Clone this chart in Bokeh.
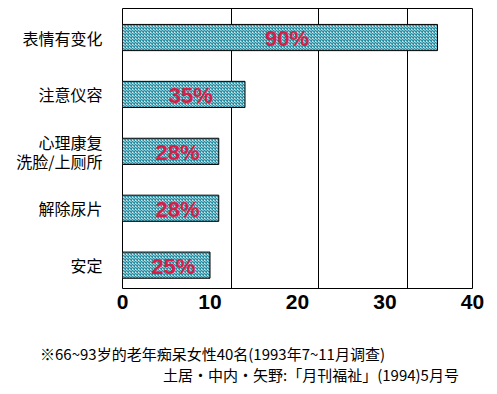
from bokeh.plotting import figure
from bokeh.models import FixedTicker, Range1d, ColumnDataSource, Div
from bokeh.layouts import column
from bokeh.core.properties import value
from bokeh.embed import file_html
from bokeh.resources import INLINE

categories = ["表情有变化", "注意仪容", "心理康复\n洗脸/上厕所", "解除尿片", "安定"]
counts = [36, 14, 11, 11, 10]
pct_labels = ["90%", "35%", "28%", "28%", "25%"]
x_ticks = [0, 10, 20, 30, 40]
grid_positions = [12.45, 22.4, 32.6]
note1 = "※66~93岁的老年痴呆女性40名(1993年7~11月调查)"
note2 = "土居・中内・矢野:「月刊福祉」(1994)5月号"

ypos = list(range(len(categories)))
src = ColumnDataSource(dict(y=ypos, right=counts, mid=[c / 2 for c in counts], lab=pct_labels))

p = figure(width=497, height=330, output_backend="svg", toolbar_location=None,
           x_range=Range1d(0, 40), y_range=Range1d(4.41, -0.51),
           min_border_left=122, min_border_right=25, min_border_top=8, min_border_bottom=42)
p.outline_line_color = "black"
p.outline_line_width = 1
p.background_fill_color = "white"
p.border_fill_color = "white"

p.hbar(y="y", left=0, right="right", height=0.46, source=src,
       fill_color="#cbe8ee", line_color="black", line_width=1,
       hatch_pattern="diagonal_cross", hatch_color="#2a8ea3", hatch_scale=3, hatch_weight=1.3)

p.text(x="mid", y="y", text="lab", source=src, x_offset=7, y_offset=1,
       text_align="center", text_baseline="middle", text_color="#d81e48",
       text_font=value("Liberation Sans"), text_font_style="bold", text_font_size="22px")

p.xgrid.ticker = FixedTicker(ticks=grid_positions)
p.xgrid.grid_line_color = "black"
p.xgrid.grid_line_width = 1
p.ygrid.grid_line_color = None

p.xaxis.ticker = FixedTicker(ticks=x_ticks)
p.xaxis.axis_line_color = None
p.xaxis.major_tick_line_color = None
p.xaxis.minor_tick_line_color = None
p.xaxis.major_tick_out = 0
p.xaxis.major_label_standoff = 6
p.xaxis.major_label_text_font = "Liberation Sans"
p.xaxis.major_label_text_font_style = "bold"
p.xaxis.major_label_text_font_size = "21px"
p.xaxis.major_label_text_color = "black"

p.yaxis.ticker = FixedTicker(ticks=ypos)
p.yaxis.major_label_overrides = {i: c for i, c in zip(ypos, categories)}
p.yaxis.axis_line_color = None
p.yaxis.major_tick_line_color = None
p.yaxis.minor_tick_line_color = None
p.yaxis.major_tick_out = 0
p.yaxis.major_label_standoff = 20
p.yaxis.major_label_text_font = "Noto Sans CJK SC"
p.yaxis.major_label_text_font_size = "16px"
p.yaxis.major_label_text_line_height = 0.8
p.yaxis.major_label_text_color = "black"

note_html = (
    '<div style="position:relative;width:497px;height:64px;'
    "font-family:'Noto Sans CJK SC';font-size:15px;line-height:18px;color:black;\">"
    f'<div style="position:absolute;left:40px;top:15px;white-space:nowrap;">{note1}</div>'
    f'<div style="position:absolute;left:163px;top:36px;white-space:nowrap;">{note2}</div>'
    '</div>'
)
fn = Div(text=note_html, width=497, height=64, margin=0)

open("out.html", "w").write(file_html(column(p, fn, spacing=0), INLINE))
